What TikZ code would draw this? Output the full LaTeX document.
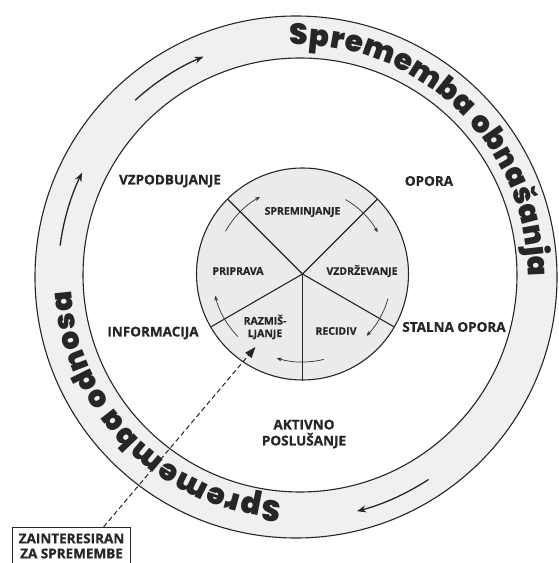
\documentclass[tikz,border=0pt]{standalone}
\usepackage{fontspec}
\setmainfont{Open Sans}[BoldFeatures={FakeBold=0.6}]
\newfontfamily\heavyfont{Poppins Black}
\usetikzlibrary{decorations.text,arrows.meta,calc}
\begin{document}
\begin{tikzpicture}[x=1pt,y=1pt,
  ink/.style={draw=black!85, line width=1.1pt},
  lbl/.style={font=\bfseries\fontsize{13.5}{16}\selectfont, text=black!85, align=center, inner sep=0pt},
  slbl/.style={font=\bfseries\fontsize{10.5}{12.5}\selectfont, text=black!85, align=center, inner sep=0pt},
  boxst/.style={draw=black!85, line width=1.1pt, font=\bfseries\fontsize{13.5}{15}\selectfont, text=black!85, align=center, minimum width=118pt, inner ysep=6pt, anchor=north west},
  garrow/.style={line width=1.3pt, draw=black!85, -{Stealth[length=9pt,width=7pt]}},
  sarrow/.style={line width=0.7pt, draw=black!80, -{Stealth[length=5pt,width=4pt]}},
  ringtext/.style={decorate, decoration={text along path, text align=fit to path, text color=black!85}}
]
\useasboundingbox (0,0) rectangle (558,563);
\clip (0,0) rectangle (558,563);
\fill[white] (0,0) rectangle (558,563);
\coordinate (O) at (296,286);
\coordinate (I) at (300,288);
\coordinate (C) at (302.5,289);
% outer band
\fill[gray!12, even odd rule] (O) circle[radius=261] (I) circle[radius=217];
\draw[ink] (O) circle[radius=261];
\draw[ink] (I) circle[radius=217];
% inner wheel
\fill[gray!16] (C) circle[radius=106];
\draw[ink] (C) circle[radius=106];
\foreach \a in {135,45,-30,-90,210} \draw[ink] (C) -- ++(\a:106);
% ring texts
\path[ringtext, decoration={text={|\heavyfont\fontsize{29.5}{29.5}\selectfont|Sprememba obnašanja}}]
  ([shift={(91.5:232)}]O) arc[start angle=91.5, end angle=0, radius=232];
\path[ringtext, decoration={text={|\heavyfont\fontsize{29.5}{29.5}\selectfont|Sprememba odnosa}}]
  ([shift={(266.3:225)}]O) arc[start angle=266.3, end angle=183.5, radius=225];
% band arrows
\draw[garrow] ([shift={(132.3:239)}]O) arc[start angle=132.3, end angle=112.8, radius=239];
\draw[garrow] ([shift={(172.4:238)}]O) arc[start angle=172.4, end angle=154, radius=238];
\draw[garrow] ([shift={(-56.8:242)}]O) arc[start angle=-56.8, end angle=-75.4, radius=242];
% wheel arrows
\draw[sarrow] ([shift={(151:88)}]C) arc[start angle=151, end angle=119, radius=88];
\draw[sarrow] ([shift={(60:86)}]C) arc[start angle=60, end angle=29, radius=86];
\draw[sarrow] ([shift={(-16:89)}]C) arc[start angle=-16, end angle=-44, radius=89];
\draw[sarrow] ([shift={(-76:88)}]C) arc[start angle=-76, end angle=-107, radius=88];
\draw[sarrow] ([shift={(224:90)}]C) arc[start angle=224, end angle=194, radius=90];
% outer labels
\node[lbl] (vzp) at (170,382) {VZPODBUJANJE};
\node[lbl] (opora) at (429,382) {OPORA};
\node[lbl] (info) at (153,230) {INFORMACIJA};
\node[lbl] (stalna) at (454,236) {STALNA OPORA};
\node[lbl] (aktivno) at (304,129) {AKTIVNO\\POSLUŠANJE};
% wheel labels
\node[slbl] (sprem) at (302.5,351) {SPREMINJANJE};
\node[slbl] (pripr) at (238,292) {PRIPRAVA};
\node[slbl] (vzdr) at (362,292) {VZDRŽEVANJE};
\node[slbl] (razm) at (265,236) {RAZMIŠ-\\LJANJE};
\node[slbl] (recid) at (336,232) {RECIDIV};
% box and dashed connector
\node[boxst] (box) at (12,36) {ZAINTERESIRAN\\ZA SPREMEMBE};
\coordinate (tip) at (255.5,216);
\draw[black!85, line width=1pt, dash pattern=on 5pt off 3pt, -{Triangle[length=11pt,width=8pt]}] ([xshift=32pt]box.north) -- (tip);
\end{tikzpicture}
\end{document}
